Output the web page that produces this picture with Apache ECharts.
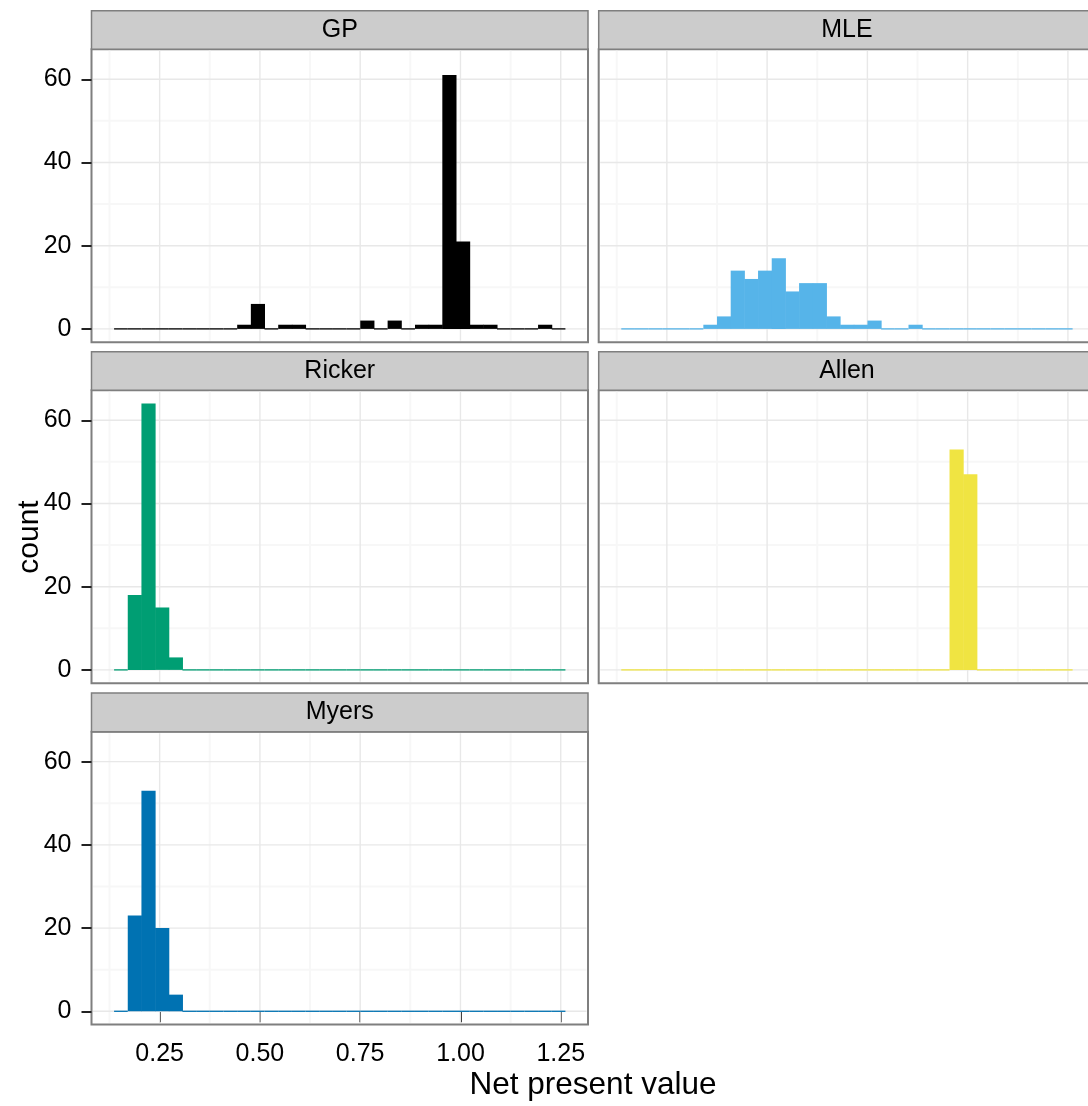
<!DOCTYPE html>
<html><head><meta charset="utf-8">
<script src="https://cdn.jsdelivr.net/npm/echarts@6/dist/echarts.min.js"></script>
<style>html,body{margin:0;padding:0;background:#fff}#c{width:1088px;height:1106px}</style>
</head><body><div id="c"></div>
<script>
// ---- data ----
const panelNames = ['GP', 'MLE', 'Ricker', 'Allen', 'Myers'];
const panelColors = ['#000000', '#56B4E9', '#009E73', '#F0E442', '#0072B2'];
const binStart = 0.1364;   // left edge of first histogram bin
const binWidth = 0.0341;   // histogram bin width
const countsGP     = [0,0,0,0,0,0,0,0,0,1,6,0,1,1,0,0,0,0,2,0,2,0,1,1,61,21,1,1,0,0,0,1,0];
const countsMLE    = [0,0,0,0,0,0,1,3,14,12,14,17,9,11,11,3,1,1,2,0,0,1,0,0,0,0,0,0,0,0,0,0,0];
const countsRicker = [0,18,64,15,3,0,0,0,0,0,0,0,0,0,0,0,0,0,0,0,0,0,0,0,0,0,0,0,0,0,0,0,0];
const countsAllen  = [0,0,0,0,0,0,0,0,0,0,0,0,0,0,0,0,0,0,0,0,0,0,0,0,53,47,0,0,0,0,0,0,0];
const countsMyers  = [0,23,53,20,4,0,0,0,0,0,0,0,0,0,0,0,0,0,0,0,0,0,0,0,0,0,0,0,0,0,0,0,0];
const xTicks = [0.25, 0.5, 0.75, 1.0, 1.25];
const xTickLabels = ['0.25', '0.50', '0.75', '1.00', '1.25'];
const xMinorTicks = [0.125, 0.375, 0.625, 0.875, 1.125];
const yTicks = [0, 20, 40, 60];
const yTickLabels = ['0', '20', '40', '60'];
const yMinorTicks = [10, 30, 50];
const xTitle = 'Net present value';
const yTitle = 'count';
const xMin = 0.0801, xMax = 1.3180, yMin = -3.2, yMax = 67.2;

// ---- layout ----
const FONT = '"Liberation Sans", Arial, Helvetica, sans-serif';
const colLeft = [91.5, 598.7];
const rowTop = [49.3, 390.3, 731.7];
const panelW = 496.5, panelH = 292.9, stripH = 38.6;
const allCounts = [countsGP, countsMLE, countsRicker, countsAllen, countsMyers];
const MAJOR = '#E8E8E8', MINOR = '#F7F7F7';

const gridData = [];
xMinorTicks.forEach(v => gridData.push(['x', v, 0]));
yMinorTicks.forEach(v => gridData.push(['y', v, 0]));
xTicks.forEach(v => gridData.push(['x', v, 1]));
yTicks.forEach(v => gridData.push(['y', v, 1]));

const grids = [], xAxes = [], yAxes = [], series = [], graphics = [];
panelNames.forEach((name, i) => {
  const col = i % 2, row = Math.floor(i / 2);
  const color = panelColors[i];
  const showX = (i === 4), showY = (col === 0);
  grids.push({left: colLeft[col], top: rowTop[row], width: panelW, height: panelH,
    show: true, borderColor: '#7F7F7F', borderWidth: 2, backgroundColor: '#fff',
    containLabel: false, outerBoundsMode: 'none'});
  xAxes.push({type: 'value', gridIndex: i, min: xMin, max: xMax, position: 'bottom',
    axisLine: {show: false},
    axisTick: {show: showX, length: 11, customValues: xTicks, lineStyle: {color: '#222', width: 2}},
    axisLabel: {show: showX, customValues: xTicks, margin: 17, fontSize: 25, color: '#000', fontFamily: FONT,
      formatter: v => { const k = xTicks.findIndex(t => Math.abs(t - v) < 1e-9); return k >= 0 ? xTickLabels[k] : ''; }},
    splitLine: {show: false}});
  yAxes.push({type: 'value', gridIndex: i, min: yMin, max: yMax, position: 'left',
    axisLine: {show: false},
    axisTick: {show: showY, length: 10, customValues: yTicks, lineStyle: {color: '#222', width: 2}},
    axisLabel: {show: showY, customValues: yTicks, margin: 20, fontSize: 25, color: '#000', fontFamily: FONT,
      formatter: v => { const k = yTicks.findIndex(t => Math.abs(t - v) < 1e-9); return k >= 0 ? yTickLabels[k] : ''; }},
    splitLine: {show: false}});
  // panel gridlines (kept inside the panel border)
  series.push({
    type: 'custom', xAxisIndex: i, yAxisIndex: i, z: 1, silent: true, clip: true,
    data: gridData, encode: {},
    renderItem: (params, api) => {
      const cs = params.coordSys;
      const dir = gridData[params.dataIndex][0];
      const v = api.value(1), major = api.value(2) === 1;
      const style = {stroke: major ? MAJOR : MINOR, lineWidth: major ? 1.4 : 2};
      if (dir === 'x') {
        const px = api.coord([v, 0])[0];
        return {type: 'line', shape: {x1: px, y1: cs.y + 1.5, x2: px, y2: cs.y + cs.height - 1.5}, style};
      }
      const py = api.coord([xMin, v])[1];
      return {type: 'line', shape: {x1: cs.x + 1.5, y1: py, x2: cs.x + cs.width - 1.5, y2: py}, style};
    }
  });
  const data = allCounts[i].map((c, k) => [binStart + k * binWidth, binStart + (k + 1) * binWidth, c]);
  series.push({
    type: 'custom', name: name, xAxisIndex: i, yAxisIndex: i, z: 5,
    encode: {x: [0, 1], y: 2}, data: data, silent: true,
    renderItem: (params, api) => {
      const x0 = api.value(0), x1 = api.value(1), c = api.value(2);
      const p0 = api.coord([x0, 0]), p1 = api.coord([x1, c]);
      if (c === 0) {
        return {type: 'line', shape: {x1: p0[0], y1: p0[1], x2: p1[0], y2: p0[1]},
          style: {stroke: color, lineWidth: 1.3}};
      }
      return {type: 'rect', shape: {x: p0[0], y: p1[1], width: p1[0] - p0[0] + 0.5, height: p0[1] - p1[1]},
        style: {fill: color}};
    }
  });
  // strip
  graphics.push({type: 'rect', z: 10,
    shape: {x: colLeft[col], y: rowTop[row] - stripH, width: panelW, height: stripH},
    style: {fill: '#CCCCCC', stroke: '#7F7F7F', lineWidth: 1.5}});
  graphics.push({type: 'text', z: 11, x: colLeft[col] + panelW / 2, y: rowTop[row] - stripH / 2,
    style: {text: name, font: '25px ' + FONT, fill: '#000', align: 'center', verticalAlign: 'middle',
      textAlign: 'center', textVerticalAlign: 'middle'}});
});
graphics.push({type: 'text', z: 11, x: 593, y: 1085,
  style: {text: xTitle, font: '31.5px ' + FONT, fill: '#000', align: 'center', verticalAlign: 'middle',
    textAlign: 'center', textVerticalAlign: 'middle'}});
graphics.push({type: 'text', z: 11, x: 30, y: 537, rotation: Math.PI / 2,
  style: {text: yTitle, font: '30px ' + FONT, fill: '#000', align: 'center', verticalAlign: 'middle',
    textAlign: 'center', textVerticalAlign: 'middle'}});

const chart = echarts.init(document.getElementById('c'), null, {renderer: 'canvas'});
chart.setOption({
  animation: false,
  backgroundColor: '#fff',
  grid: grids, xAxis: xAxes, yAxis: yAxes, series: series,
  graphic: {elements: graphics}
});
</script></body></html>
